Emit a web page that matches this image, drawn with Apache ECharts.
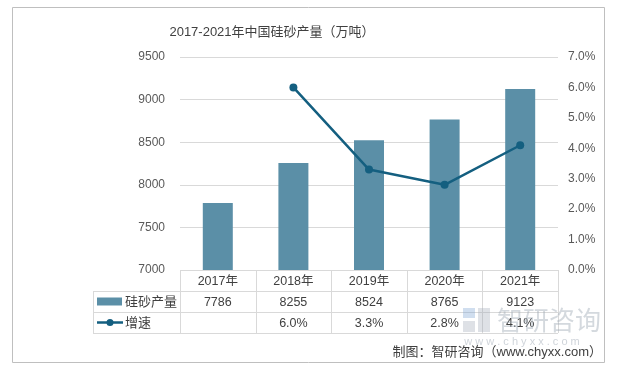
<!DOCTYPE html>
<html><head><meta charset="utf-8">
<script src="https://cdn.jsdelivr.net/npm/echarts@6/dist/echarts.min.js"></script>
<style>html,body{margin:0;padding:0;background:#fff}#c{width:617px;height:369px}</style>
</head><body><div id="c"></div>
<script>
var categories = ['2017年','2018年','2019年','2020年','2021年'];
var production = [7786, 8255, 8524, 8765, 9123];
var growth = [null, 6.0, 3.3, 2.8, 4.1];
var leftTicks = {min: 7000, max: 9500, interval: 500};
var rightTicks = {min: 0, max: 7, interval: 1};
var seriesNames = ['硅砂产量', '增速'];
var titleText = '2017-2021年中国硅砂产量（万吨）';
var footerText = '制图：智研咨询（www.chyxx.com）';

var FONT = '"Liberation Sans", "Noto Sans CJK SC", sans-serif';
var BAR = '#5b8fa7';
var LINE = '#145f80';
var GRID = '#d9d9d9';
var TXT = '#404040';

var chart = echarts.init(document.getElementById('c'), null, {renderer: 'canvas'});
chart.setOption({
  animation: false,
  backgroundColor: '#fff',
  textStyle: {fontFamily: FONT},
  grid: {left: 180, right: 59, top: 57, bottom: 99},
  xAxis: {
    type: 'category', data: categories,
    axisLine: {show: false}, axisTick: {show: false}, axisLabel: {show: false}
  },
  yAxis: [{
    type: 'value', min: leftTicks.min, max: leftTicks.max, interval: leftTicks.interval,
    axisLine: {show: false}, axisTick: {show: false},
    axisLabel: {color: '#595959', fontSize: 12, margin: 15, fontFamily: FONT,
      formatter: function (v) { return String(v); }},
    splitLine: {lineStyle: {color: GRID, width: 1}}
  }, {
    type: 'value', min: rightTicks.min, max: rightTicks.max, interval: rightTicks.interval,
    axisLine: {show: false}, axisTick: {show: false},
    axisLabel: {color: '#595959', fontSize: 12, margin: 10, fontFamily: FONT,
      formatter: function (v) { return v.toFixed(1) + '%'; }},
    splitLine: {show: false}
  }],
  series: [{
    name: seriesNames[0], type: 'bar', data: production, barWidth: 30,
    itemStyle: {color: BAR}
  }, {
    name: seriesNames[1], type: 'line', yAxisIndex: 1, data: growth,
    symbol: 'circle', symbolSize: 8, connectNulls: false,
    lineStyle: {color: LINE, width: 2.5}, itemStyle: {color: LINE}
  }]
});

// Build data table beneath the plot using the library's own scale positions
var c0 = chart.convertToPixel({xAxisIndex: 0}, 0);
var c1 = chart.convertToPixel({xAxisIndex: 0}, 1);
var band = c1 - c0;
var plotLeft = c0 - band / 2;
var plotRight = plotLeft + band * categories.length;
var yTop = chart.convertToPixel({yAxisIndex: 0}, leftTicks.min);
var rowH = 21;
var tableLeft = 93;
var els = [];
function hline(x1, x2, y) {
  els.push({type: 'line', shape: {x1: x1, y1: y + 0.5, x2: x2, y2: y + 0.5}, style: {stroke: GRID, lineWidth: 1}});
}
function vline(x, y1, y2) {
  els.push({type: 'line', shape: {x1: Math.round(x) + 0.5, y1: y1, x2: Math.round(x) + 0.5, y2: y2}, style: {stroke: GRID, lineWidth: 1}});
}
function txt(t, x, y, size, align, color) {
  els.push({type: 'text', x: x, y: y, style: {text: t, fill: color || TXT, font: size + 'px ' + FONT, textAlign: align || 'center', textVerticalAlign: 'middle'}});
}
hline(plotLeft, plotRight, yTop);
for (var r = 1; r <= 3; r++) hline(tableLeft, plotRight, yTop + r * rowH);
vline(tableLeft, yTop + rowH, yTop + 3 * rowH);
for (var k = 0; k <= categories.length; k++) vline(plotLeft + k * band, yTop, yTop + 3 * rowH);
for (var i = 0; i < categories.length; i++) {
  var cx = chart.convertToPixel({xAxisIndex: 0}, i);
  txt(categories[i], cx, yTop + rowH * 0.5 + 1, 12.5);
  txt(String(production[i]), cx, yTop + rowH * 1.5 + 1, 12.5);
  if (growth[i] != null) txt(growth[i].toFixed(1) + '%', cx, yTop + rowH * 2.5 + 1, 12.5);
}
// legend keys in table
var ky1 = yTop + rowH * 1.5;
els.push({type: 'rect', shape: {x: 97, y: ky1 - 4, width: 25, height: 8}, style: {fill: BAR}});
txt(seriesNames[0], 125, ky1 + 1, 13, 'left');
var ky2 = yTop + rowH * 2.5;
els.push({type: 'line', shape: {x1: 97, y1: ky2, x2: 123, y2: ky2}, style: {stroke: LINE, lineWidth: 2.5}});
els.push({type: 'circle', shape: {cx: 110, cy: ky2, r: 3.5}, style: {fill: LINE}});
txt(seriesNames[1], 125, ky2 + 1, 13, 'left');

// watermark
els.push({type: 'text', x: 549, y: 320, z: 10, style: {text: '智研咨询', fill: 'rgba(160,170,182,0.45)', font: '26px "Noto Sans CJK SC", sans-serif', textAlign: 'center', textVerticalAlign: 'middle'}});
els.push({type: 'rect', z: 10, shape: {x: 463, y: 308, width: 12, height: 10}, style: {fill: 'rgba(120,160,210,0.35)'}});
els.push({type: 'rect', z: 10, shape: {x: 478, y: 308, width: 12, height: 24}, style: {fill: 'rgba(160,170,182,0.35)'}});
els.push({type: 'rect', z: 10, shape: {x: 463, y: 321, width: 12, height: 11}, style: {fill: 'rgba(160,170,182,0.35)'}});
els.push({type: 'text', x: 522, y: 342, z: 10, style: {text: 'w w w . c h y x x . c o m', fill: 'rgba(160,170,182,0.5)', font: '11px ' + FONT, textAlign: 'center', textVerticalAlign: 'middle'}});

// title, footer, outer border
txt(titleText, 272, 32, 13, 'center', '#404040');
els.push({type: 'text', x: 602, y: 352, style: {text: footerText, fill: TXT, font: '13px ' + FONT, textAlign: 'right', textVerticalAlign: 'middle'}});
els.push({type: 'rect', shape: {x: 12.5, y: 7.5, width: 592, height: 355}, style: {fill: 'none', stroke: '#bfbfbf', lineWidth: 1}});

chart.setOption({graphic: {elements: els}});
</script></body></html>
